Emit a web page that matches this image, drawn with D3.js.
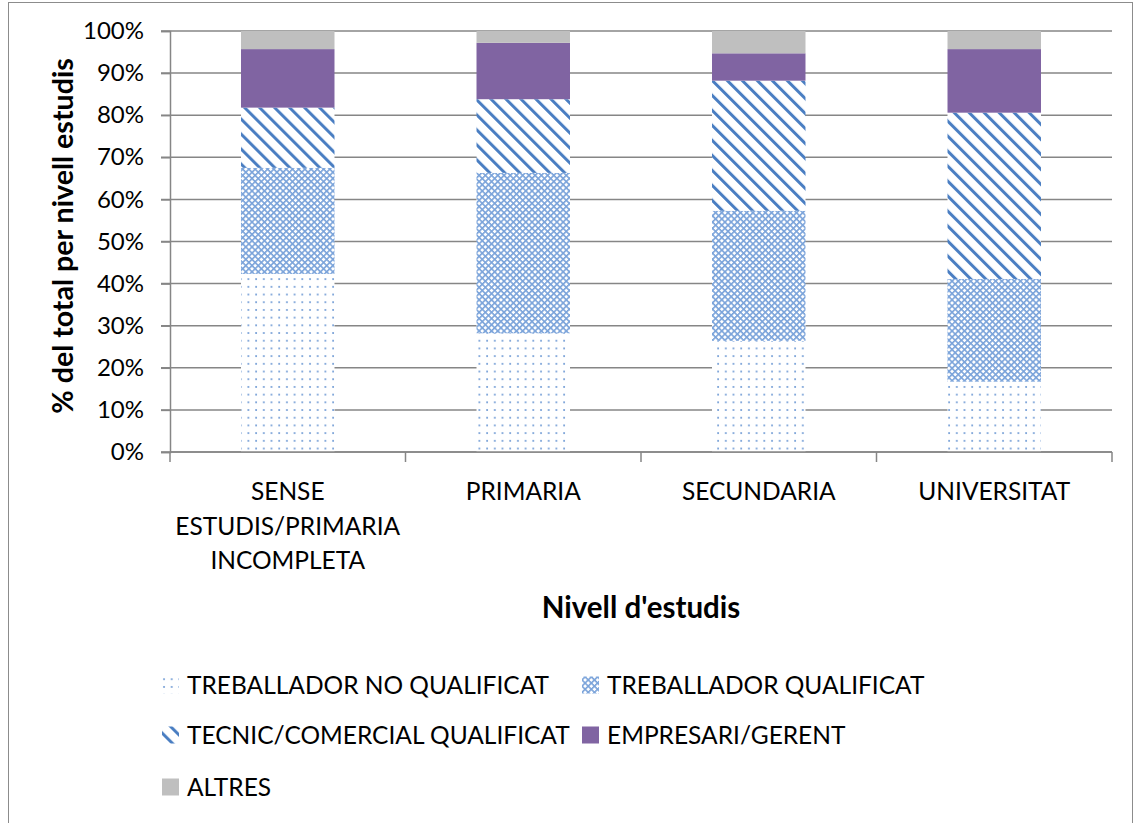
<!DOCTYPE html>
<html>
<head>
<meta charset="utf-8">
<script src="https://cdn.jsdelivr.net/npm/d3@7"></script>
<style>
  html, body { margin: 0; padding: 0; background: #fff; }
  svg { display: block; font-family: Lato, "Open Sans", sans-serif; }
</style>
</head>
<body>
<svg id="chart" width="1134" height="823"></svg>
<script>
// Nivell d'estudis (categories) and share of each occupational group (%)
const categories = ["SENSE ESTUDIS/PRIMARIA INCOMPLETA", "PRIMARIA", "SECUNDARIA", "UNIVERSITAT"];
const categoryLines = [["SENSE", "ESTUDIS/PRIMARIA", "INCOMPLETA"], ["PRIMARIA"], ["SECUNDARIA"], ["UNIVERSITAT"]];
const seriesNames = ["TREBALLADOR NO QUALIFICAT", "TREBALLADOR QUALIFICAT", "TECNIC/COMERCIAL QUALIFICAT", "EMPRESARI/GERENT", "ALTRES"];
const noQualificat = [42.3, 28.2, 26.4, 16.7];
const qualificat   = [25.2, 38.1, 30.9, 24.4];
const tecnic       = [14.3, 17.5, 30.9, 39.5];
const empresari    = [13.9, 13.4, 6.5, 15.1];
const altres       = [4.3, 2.8, 5.3, 4.3];
const yTicks = [0, 10, 20, 30, 40, 50, 60, 70, 80, 90, 100];

const seriesValues = [noQualificat, qualificat, tecnic, empresari, altres];
const rows = categories.map((c, i) => {
  const r = { cat: c };
  seriesNames.forEach((s, j) => r[s] = seriesValues[j][i]);
  return r;
});

const svg = d3.select("#chart");
const margin = { left: 170, right: 22, top: 31, bottom: 371 };
const W = 1134, H = 823;
const x0 = margin.left, x1 = W - margin.right;
const yTop = margin.top, yBot = H - margin.bottom;

// outer frame
svg.append("rect").attr("x", 8.5).attr("y", 2.5).attr("width", 1124).attr("height", 830)
  .attr("fill", "none").attr("stroke", "#8c8c8c").attr("stroke-width", 1);

// fill patterns
const defs = svg.append("defs");

const pDots = defs.append("pattern").attr("id", "p-dots").attr("patternUnits", "userSpaceOnUse")
  .attr("width", 7.7).attr("height", 7.7);
pDots.append("rect").attr("width", 7.7).attr("height", 7.7).attr("fill", "#fff");
pDots.append("circle").attr("cx", 2).attr("cy", 2).attr("r", 1.0).attr("fill", "#6a97d3");

// diamond lattice
const pDiam = defs.append("pattern").attr("id", "p-diam").attr("patternUnits", "userSpaceOnUse")
  .attr("width", 4.4).attr("height", 4.4).attr("patternTransform", "rotate(45)");
pDiam.append("rect").attr("width", 4.4).attr("height", 4.4).attr("fill", "#ffffff");
pDiam.append("rect").attr("width", 4.4).attr("height", 1.6).attr("fill", "#7aa3da");
pDiam.append("rect").attr("width", 1.6).attr("height", 4.4).attr("fill", "#7aa3da");

// diagonal stripes running top-left to bottom-right
const pStripe = defs.append("pattern").attr("id", "p-stripe").attr("patternUnits", "userSpaceOnUse")
  .attr("width", 10.6).attr("height", 10.6).attr("patternTransform", "rotate(-45)");
pStripe.append("rect").attr("width", 10.6).attr("height", 10.6).attr("fill", "#fff");
pStripe.append("rect").attr("x", 0).attr("y", 0).attr("width", 3.0).attr("height", 10.6).attr("fill", "#4a7ec2");

const fills = ["url(#p-dots)", "url(#p-diam)", "url(#p-stripe)", "#8064a2", "#bfbfbf"];

// scales
const x = d3.scaleBand().domain(categories).range([x0, x1]).paddingInner(0.603).paddingOuter(0.3015);
const y = d3.scaleLinear().domain([0, 100]).range([yBot, yTop]);

// gridlines
svg.append("g").selectAll("line").data(yTicks).join("line")
  .attr("x1", x0 - 9).attr("x2", x1)
  .attr("y1", d => y(d)).attr("y2", d => y(d))
  .attr("stroke", "#868686").attr("stroke-width", 1.5);

// y axis
const yAxis = svg.append("g").attr("transform", `translate(${x0},0)`)
  .call(d3.axisLeft(y).tickValues(yTicks).tickFormat(d => d + "%").tickSize(9).tickPadding(17));
yAxis.select(".domain").attr("stroke", "#868686").attr("stroke-width", 1.5);
yAxis.selectAll(".tick line").attr("stroke", "#868686").attr("stroke-width", 1.5);
yAxis.selectAll(".tick text").attr("font-size", 24).attr("fill", "#000").attr("font-family", "Lato, sans-serif");

// stacked bars
const stack = d3.stack().keys(seriesNames);
const layers = stack(rows);
svg.append("g").selectAll("g").data(layers).join("g")
  .attr("fill", (d, i) => fills[i])
  .selectAll("rect").data(d => d).join("rect")
  .attr("x", d => x(d.data.cat))
  .attr("width", x.bandwidth())
  .attr("y", d => y(d[1]))
  .attr("height", d => y(d[0]) - y(d[1]));

// x axis
const xAxisG = svg.append("g").attr("transform", `translate(0,${yBot})`);
xAxisG.append("line").attr("x1", x0).attr("x2", x1).attr("stroke", "#868686").attr("stroke-width", 1.5);
const bounds = d3.range(categories.length + 1).map(i => x0 + i * x.step());
xAxisG.selectAll("line.t").data(bounds).join("line").attr("class", "t")
  .attr("x1", d => d).attr("x2", d => d).attr("y1", 0).attr("y2", 10)
  .attr("stroke", "#868686").attr("stroke-width", 1.5);
categories.forEach((c, i) => {
  const cx = x(c) + x.bandwidth() / 2;
  const t = xAxisG.append("text").attr("text-anchor", "middle")
    .attr("font-size", 24.5).attr("fill", "#000").attr("x", cx);
  categoryLines[i].forEach((ln, k) => {
    t.append("tspan").attr("x", cx).attr("y", 48 + k * 34.5).text(ln);
  });
});

// axis titles
svg.append("text").attr("x", 641).attr("y", 618).attr("text-anchor", "middle")
  .attr("font-size", 29.5).attr("font-weight", "bold").attr("fill", "#000").text("Nivell d'estudis");
svg.append("text").attr("transform", "translate(73,236) rotate(-90)").attr("text-anchor", "middle")
  .attr("font-size", 28.6).attr("font-weight", "bold").attr("fill", "#000").text("% del total per nivell estudis");

// legend
const legendPos = [[162, 685], [582, 685], [162, 735], [582, 735], [162, 787]];
const lg = svg.append("g").selectAll("g").data(seriesNames).join("g")
  .attr("transform", (d, i) => `translate(${legendPos[i][0]},${legendPos[i][1]})`);
lg.append("rect").attr("x", 0).attr("y", -8.5).attr("width", 17).attr("height", 17)
  .attr("fill", (d, i) => fills[i]);
lg.append("text").attr("x", 25).attr("y", 9).attr("font-size", 24.5).attr("fill", "#000").text(d => d);
</script>
</body>
</html>
